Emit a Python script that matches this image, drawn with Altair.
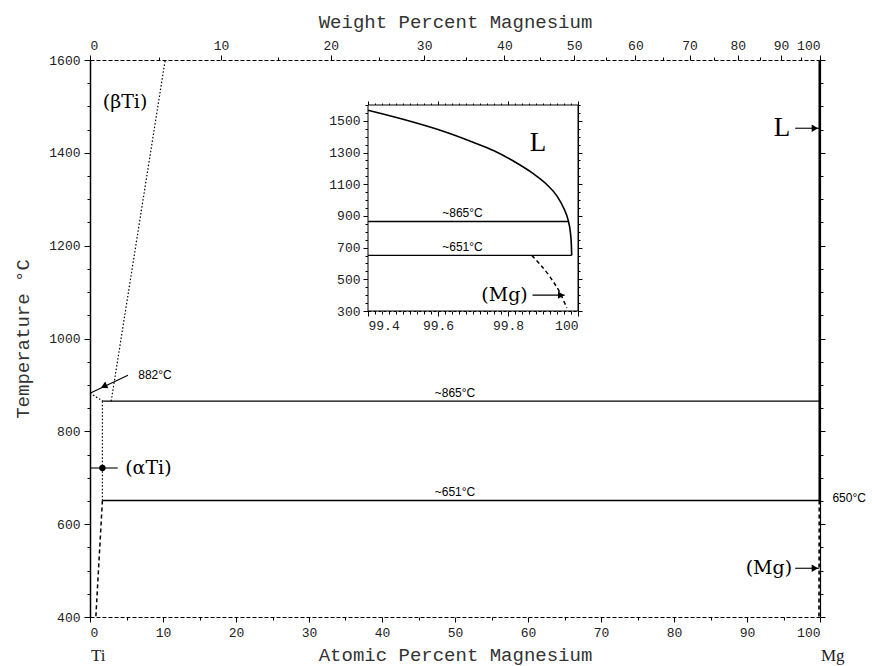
import altair as alt
import pandas as pd

# Ti–Mg phase diagram (temperature vs. composition), with an Mg-rich inset

M_MG = 24.305
M_TI = 47.867

# ---------------- main diagram data ----------------
# invariant isotherms (°C) and their composition span (at.% Mg)
iso_t = [865, 651]
iso_from = [1.8, 1.7]
iso_to = [100, 100]
iso_label = ["~865°C", "~651°C"]
iso_label_x = [50, 50]

# (βTi) transus, dotted
beta_x = [2.9, 10.3]
beta_t = [865, 1600]
# boundary from the Ti allotropic point down to the 865 °C isotherm
ab_x = [0, 1.8]
ab_t = [882, 865]
# (αTi) solvus: dotted between the isotherms, dashed below 651 °C
asol_x = [1.7, 1.7]
asol_t = [865, 651]
asol_low_x = [1.7, 0.8]
asol_low_t = [651, 400]
# Mg-rich side: liquidus (solid) and (Mg) solvus (dashed)
mg_liq_x = [99.9, 99.9]
mg_liq_t = [1600, 651]
mg_sol_x = [99.9, 99.86]
mg_sol_t = [651, 400]

# phase labels
phase_label = ["(βTi)", "(αTi)", "(Mg)"]
phase_x = [4.8, 8.0, 93.0]
phase_t = [1510, 721, 505]
big_label = ["L"]
big_x = [94.8]
big_t = [1453]
note_label = ["882°C", "650°C"]
note_x = [8.9, 104.0]
note_t = [921, 656]

# arrows: line segments and their heads
arr_x1 = [5.2, 0.0, 96.6, 96.6]
arr_x2 = [0.0, 3.8, 99.9, 99.9]
arr_t1 = [921, 721, 1453, 505]
arr_t2 = [882, 721, 1453, 505]
head_x = [1.9, 99.3, 99.3]
head_t = [897, 1453, 505]
head_angle = [155, 0, 0]
dot_x = [1.7]
dot_t = [721]

# ---------------- inset data (99.4–100 at.% Mg) ----------------
in_liq_x = [99.40, 99.50, 99.60, 99.70, 99.76, 99.82, 99.87, 99.91, 99.94,
            99.96, 99.972, 99.978, 99.981, 99.982]
in_liq_t = [1567, 1510, 1445, 1365, 1311, 1240, 1170, 1100, 1025,
            945, 872, 800, 720, 651]
in_iso_t = [865, 651]
in_iso_from = [99.4, 99.4]
in_iso_to = [99.972, 99.982]
in_iso_label = ["~865°C", "~651°C"]
in_iso_label_x = [99.67, 99.67]
in_sol_x = [99.868, 99.92, 99.949, 99.968]
in_sol_t = [651, 515, 413, 319]
in_label = ["(Mg)"]
in_label_x = [99.79]
in_label_t = [400]
in_L_x = [99.886]
in_L_t = [1362]
in_arr_x1 = [99.87]
in_arr_x2 = [99.962]
in_arr_t = [400]
in_head_x = [99.952]

# axis tick values
temp_ticks = list(range(400, 1601, 50))
at_ticks = list(range(0, 101, 5))
wt_ticks = list(range(0, 101, 5))
in_x_ticks = [round(99.4 + 0.02 * i, 2) for i in range(31)]
in_y_ticks = list(range(300, 1601, 50))


def wt_to_at(w):
    a = w / M_MG
    b = (100 - w) / M_TI
    return 100 * a / (a + b)


wt_pos = [wt_to_at(w) for w in wt_ticks]

# ---------------- scales ----------------
W, H = 730, 557
XM = alt.Scale(domain=[0, 100], nice=False, zero=False)
YM = alt.Scale(domain=[400, 1600], nice=False, zero=False)
IN_L, IN_R, IN_T, IN_B = 278, 488, 45, 251
XI = alt.Scale(domain=[99.4, 100], range=[IN_L, IN_R], nice=False, zero=False)
YI = alt.Scale(domain=[300, 1600], range=[IN_B, IN_T], nice=False, zero=False)

LABEL_FONT = "Liberation Mono"
TITLE_FONT = "Liberation Mono"
SERIF = "DejaVu Serif"
SMALL = "Liberation Sans"


def ex(f, s=XM):
    return alt.X(f, type="quantitative", scale=s, axis=None)


def ey(f, s=YM):
    return alt.Y(f, type="quantitative", scale=s, axis=None)


def seg(xs, ts):
    return pd.DataFrame({"x": xs, "t": ts, "o": list(range(len(xs)))})


def line(xs, ts, dash=None, width=1.3, xs_=XM, ys_=YM, interp="linear"):
    kw = {"color": "black", "strokeWidth": width, "interpolate": interp}
    if dash:
        kw["strokeDash"] = dash
    return alt.Chart(seg(xs, ts)).mark_line(**kw).encode(
        x=ex("x", xs_), y=ey("t", ys_), order="o:Q"
    )


def tick_cond(test, big, small):
    return {"condition": {"test": test, "value": big}, "value": small}


# ---------------- axes ----------------
left_axis = alt.Chart(pd.DataFrame({"v": [1000]})).mark_point(opacity=0).encode(
    y=alt.Y("v:Q", scale=YM, axis=alt.Axis(
        orient="left", values=temp_ticks, title="Temperature °C", format="d",
        labelExpr="datum.value % 200 === 0 ? datum.label : ''",
        tickSize=tick_cond("datum.value % 200 === 0", 6, 3),
        labelPadding=4, titlePadding=16, labelOverlap=False,
        domainWidth=1.5))
)
right_axis = alt.Chart(pd.DataFrame({"v": [1000]})).mark_point(opacity=0).encode(
    y=alt.Y("v:Q", scale=YM, axis=alt.Axis(
        orient="right", values=temp_ticks, labels=False, title=None,
        tickSize=tick_cond("datum.value % 200 === 0", 5, 3), domainWidth=1.2))
)
bottom_axis = alt.Chart(pd.DataFrame({"v": [50]})).mark_point(opacity=0).encode(
    x=alt.X("v:Q", scale=XM, axis=alt.Axis(
        orient="bottom", values=at_ticks, title="Atomic Percent Magnesium", format="d",
        labelExpr="datum.value % 10 === 0 ? datum.label : ''",
        tickSize=tick_cond("datum.value % 10 === 0", 5, 3),
        labelPadding=4, titlePadding=6, labelOverlap=False,
        domainDash=[4, 2]))
)
WEXPR = "round(100*datum.value*%s/(datum.value*%s+(100-datum.value)*%s))" % (M_MG, M_MG, M_TI)
top_axis = alt.Chart(pd.DataFrame({"v": [50]})).mark_point(opacity=0).encode(
    x=alt.X("v:Q", scale=XM, axis=alt.Axis(
        orient="top", values=wt_pos, title="Weight Percent Magnesium",
        labelExpr="%s %% 10 === 0 ? '' + %s : ''" % (WEXPR, WEXPR),
        tickSize=tick_cond("%s %% 10 === 0" % WEXPR, 5, 3),
        labelPadding=3, titlePadding=8, labelOverlap=False,
        domainDash=[4, 2]))
)

# inset frame and axes
inset_box = alt.Chart(pd.DataFrame({"x": [99.4], "x2": [100], "t": [300], "t2": [1600]})).mark_rect(
    fill="white", stroke="black", strokeWidth=1
).encode(x=ex("x", XI), x2="x2", y=ey("t", YI), y2="t2")

IN_MAJOR_X = "indexof([99.4, 99.6, 99.8, 100], datum.value) >= 0"
IN_MAJOR_Y = "(datum.value - 300) % 200 === 0 && datum.value <= 1500"
inset_x_axis = alt.Chart(pd.DataFrame({"v": [99.7]})).mark_point(opacity=0).encode(
    x=alt.X("v:Q", scale=XI, axis=alt.Axis(
        orient="bottom", offset=-(H - IN_B), values=in_x_ticks, title=None,
        labelExpr="%s ? (datum.value >= 100 ? '100' : format(datum.value, '.1f')) : ''" % IN_MAJOR_X,
        tickSize=tick_cond(IN_MAJOR_X, 5, 3), labelPadding=3, labelOverlap=False,
        domainDash=[3, 2]))
)
inset_y_axis = alt.Chart(pd.DataFrame({"v": [900]})).mark_point(opacity=0).encode(
    y=alt.Y("v:Q", scale=YI, axis=alt.Axis(
        orient="left", offset=-IN_L, values=in_y_ticks, title=None, format="d",
        labelExpr="%s ? datum.label : ''" % IN_MAJOR_Y,
        tickSize=tick_cond(IN_MAJOR_Y, 5, 3), labelPadding=3, labelOverlap=False))
)
inset_top_axis = alt.Chart(pd.DataFrame({"v": [99.7]})).mark_point(opacity=0).encode(
    x=alt.X("v:Q", scale=XI, axis=alt.Axis(
        orient="top", offset=-IN_T, values=in_x_ticks, title=None, labels=False,
        tickSize=tick_cond(IN_MAJOR_X, 4, 2), domainDash=[3, 2]))
)
inset_right_axis = alt.Chart(pd.DataFrame({"v": [900]})).mark_point(opacity=0).encode(
    y=alt.Y("v:Q", scale=YI, axis=alt.Axis(
        orient="right", offset=-(W - IN_R), values=in_y_ticks, title=None, labels=False,
        tickSize=tick_cond(IN_MAJOR_Y, 4, 2)))
)

# ---------------- main diagram marks ----------------
iso_df = pd.DataFrame({"x": iso_from, "x2": iso_to, "t": iso_t,
                       "lab": iso_label, "lx": iso_label_x})
isotherms = alt.Chart(iso_df).mark_rule(color="black", strokeWidth=1.4).encode(
    x=ex("x"), x2="x2", y=ey("t"))
iso_text = alt.Chart(iso_df).mark_text(
    font=SMALL, fontSize=12, baseline="bottom", dy=-1, color="black"
).encode(x=ex("lx"), y=ey("t"), text="lab:N")

beta = line(beta_x, beta_t, dash=[1.5, 2], width=1.2)
ab = line(ab_x, ab_t, dash=[1.5, 2], width=1.2)
asol = line(asol_x, asol_t, dash=[1.5, 2], width=1.2)
asol_low = line(asol_low_x, asol_low_t, dash=[4, 3], width=1.5)
mg_liq = line(mg_liq_x, mg_liq_t, width=1.6)
mg_sol = line(mg_sol_x, mg_sol_t, dash=[4, 3], width=1.6)

arr_df = pd.DataFrame({"x": arr_x1, "x2": arr_x2, "t": arr_t1, "t2": arr_t2})
arrows = alt.Chart(arr_df).mark_rule(color="black", strokeWidth=1.1).encode(
    x=ex("x"), x2="x2", y=ey("t"), y2="t2")
heads = alt.Chart(pd.DataFrame({"x": head_x, "t": head_t, "a": head_angle})).mark_point(
    shape="triangle-right", filled=True, color="black", size=55, opacity=1
).encode(x=ex("x"), y=ey("t"), angle=alt.Angle("a:Q", scale=None))
dots = alt.Chart(pd.DataFrame({"x": dot_x, "t": dot_t})).mark_point(
    shape="circle", filled=True, color="black", size=40, opacity=1
).encode(x=ex("x"), y=ey("t"))

phases = alt.Chart(pd.DataFrame({"x": phase_x, "t": phase_t, "lab": phase_label})).mark_text(
    font=SERIF, fontSize=19, color="black"
).encode(x=ex("x"), y=ey("t"), text="lab:N")
big = alt.Chart(pd.DataFrame({"x": big_x, "t": big_t, "lab": big_label})).mark_text(
    font="Liberation Serif", fontSize=27, color="black"
).encode(x=ex("x"), y=ey("t"), text="lab:N")
notes = alt.Chart(pd.DataFrame({"x": note_x, "t": note_t, "lab": note_label})).mark_text(
    font=SMALL, fontSize=12, color="black"
).encode(x=ex("x"), y=ey("t"), text="lab:N")

ends = alt.Chart(pd.DataFrame({"x": [0, 100], "lab": ["Ti", "Mg"]})).mark_text(
    font="Liberation Serif", fontSize=17, color="#222", align="left", dx=1
).encode(x=ex("x"), y=alt.value(H + 39), text="lab:N")

# ---------------- inset marks ----------------
in_liq = line(in_liq_x, in_liq_t, width=1.6, xs_=XI, ys_=YI, interp="monotone")
in_iso_df = pd.DataFrame({"x": in_iso_from, "x2": in_iso_to, "t": in_iso_t,
                          "lab": in_iso_label, "lx": in_iso_label_x})
in_iso = alt.Chart(in_iso_df).mark_rule(color="black", strokeWidth=1.4).encode(
    x=ex("x", XI), x2="x2", y=ey("t", YI))
in_iso_text = alt.Chart(in_iso_df).mark_text(
    font=SMALL, fontSize=12, baseline="bottom", dy=-1, color="black"
).encode(x=ex("lx", XI), y=ey("t", YI), text="lab:N")
in_sol = line(in_sol_x, in_sol_t, dash=[4, 3], width=1.5, xs_=XI, ys_=YI, interp="monotone")
in_arrow = alt.Chart(pd.DataFrame({"x": in_arr_x1, "x2": in_arr_x2, "t": in_arr_t})).mark_rule(
    color="black", strokeWidth=1.1).encode(x=ex("x", XI), x2="x2", y=ey("t", YI))
in_head = alt.Chart(pd.DataFrame({"x": in_head_x, "t": in_arr_t})).mark_point(
    shape="triangle-right", filled=True, color="black", size=55, opacity=1
).encode(x=ex("x", XI), y=ey("t", YI))
in_lab = alt.Chart(pd.DataFrame({"x": in_label_x, "t": in_label_t, "lab": in_label})).mark_text(
    font=SERIF, fontSize=19, color="black").encode(x=ex("x", XI), y=ey("t", YI), text="lab:N")
in_L = alt.Chart(pd.DataFrame({"x": in_L_x, "t": in_L_t, "lab": ["L"]})).mark_text(
    font="Liberation Serif", fontSize=27, color="black").encode(x=ex("x", XI), y=ey("t", YI), text="lab:N")

chart = alt.layer(
    left_axis, right_axis, bottom_axis, top_axis,
    isotherms, iso_text, beta, ab, asol, asol_low, mg_liq, mg_sol,
    arrows, heads, dots, phases, big, notes, ends,
    inset_box, inset_x_axis, inset_y_axis, inset_top_axis, inset_right_axis,
    in_liq, in_iso, in_iso_text, in_sol, in_arrow, in_head, in_lab, in_L,
).resolve_scale(
    x="independent", y="independent"
).resolve_axis(
    x="independent", y="independent"
).properties(
    width=W, height=H,
    autosize=alt.AutoSizeParams(type="none"),
    padding={"left": 90, "top": 60, "right": 52, "bottom": 49},
    background="white",
).configure_view(
    stroke=None
).configure_axis(
    grid=False, domainColor="black", tickColor="black", labelColor="#222",
    labelFont=LABEL_FONT, labelFontSize=13, titleFont=TITLE_FONT,
    titleFontSize=19, titleFontWeight="normal", titleColor="#333",
)

chart.save("out.html", embed_options={"renderer": "svg", "actions": False})
